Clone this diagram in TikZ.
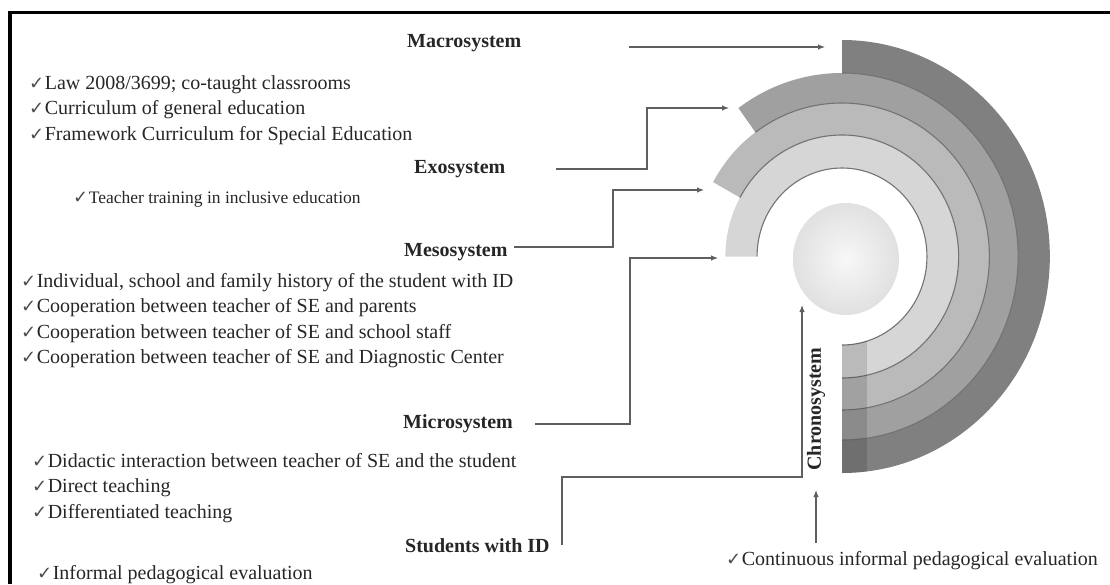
\documentclass[tikz,border=0pt]{standalone}
\usepackage{fontspec}
\setmainfont{Liberation Serif}
\newfontfamily\tickfont{DejaVu Sans}
\usetikzlibrary{arrows.meta,calc}
\definecolor{RingOne}{RGB}{214,214,214}
\definecolor{RingTwo}{RGB}{186,186,186}
\definecolor{RingThree}{RGB}{160,160,160}
\definecolor{RingFour}{RGB}{128,128,128}
\definecolor{LineGray}{RGB}{95,95,95}
\definecolor{TextGray}{RGB}{38,38,38}
\newcommand{\tickmark}{{\tickfont\fontsize{18}{18}\selectfont\color{black!70}✓}\kern0.5pt}

\begin{document}
\begin{tikzpicture}[
    x=1pt, y=-1pt,
    >={Latex[length=7pt,width=5.5pt]},
    head/.style={
        anchor=west,
        inner sep=0pt,
        text=TextGray,
        font=\fontsize{20}{24}\selectfont\bfseries
    },
    items/.style={
        anchor=north west,
        inner sep=0pt,
        align=left,
        text=TextGray,
        font=\fontsize{20}{25.5}\selectfont
    },
    arrow/.style={
        ->,
        line width=1.1pt,
        draw=LineGray
    },
    border/.style={
        draw=black!55,
        line width=1.1pt
    }
]
\useasboundingbox (0,0) rectangle (1110,584);

% frame
\draw[line width=3.5pt] (10,584) -- (10,12.5) -- (1110,12.5);

% rings
\begin{scope}[shift={(842,256.5)}, xscale=0.96]
    \foreach \a/\b/\s/\col in {183.5/216.5/90/RingFour, 153.5/183.5/126/RingThree,
                               121.5/153.5/151/RingTwo, 88.5/121.5/180/RingOne}
        \fill[\col] (-\s:\b) arc[start angle=-\s, end angle=90, radius=\b]
            -- (90:\a) arc[start angle=90, end angle=-\s, radius=\a] -- cycle;
    \foreach \a/\s in {183.5/90, 153.5/126, 121.5/151, 88.5/180}
        \draw[border] (-\s:\a) arc[start angle=-\s, end angle=90, radius=\a];
    \begin{scope}
        \clip (0,80) rectangle (26,230);
        \fill[black, opacity=0.13] (90:88.5) arc[start angle=90, end angle=60, radius=88.5]
            -- (60:216.5) arc[start angle=60, end angle=90, radius=216.5] -- cycle;
    \end{scope}
\end{scope}
\shade[inner color=gray!6, outer color=gray!24] (846,259) ellipse [x radius=53, y radius=56];

% labels
\node[head] (macro) at (407,43) {Macrosystem};
\node[items] (macroList) at (29,75) {\tickmark Law 2008/3699; co-taught classrooms\\
    \tickmark Curriculum of general education\\
    \tickmark Framework Curriculum for Special Education};

\node[head] (exo) at (414,169) {Exosystem};
\node[items, font=\fontsize{17.5}{21}\selectfont] (exoList) at (73,191) {\tickmark Teacher training in inclusive education};

\node[head] (meso) at (404,252) {Mesosystem};
\node[items] (mesoList) at (21,273) {\tickmark Individual, school and family history of the student with ID\\
    \tickmark Cooperation between teacher of SE and parents\\
    \tickmark Cooperation between teacher of SE and school staff\\
    \tickmark Cooperation between teacher of SE and Diagnostic Center};

\node[head] (micro) at (403,424) {Microsystem};
\node[items] (microList) at (32,453) {\tickmark Didactic interaction between teacher of SE and the student\\
    \tickmark Direct teaching\\
    \tickmark Differentiated teaching};

\node[head] (student) at (405,546) {Students with ID};
\node[items] (studentList) at (37,565) {\tickmark Informal pedagogical evaluation};

\node[head, rotate=90, anchor=center] (chrono) at (816,409) {Chronosystem};
\node[items] (chronoList) at (726,551) {\tickmark Continuous informal pedagogical evaluation};

% connectors
\coordinate (macroFrom) at (629,47);
\coordinate (macroTo) at (825,47);
\coordinate (exoFrom) at (556,169);
\coordinate (exoTo) at (729,108);
\coordinate (mesoFrom) at (514,247);
\coordinate (mesoTo) at (704,190);
\coordinate (microFrom) at (535,424);
\coordinate (microTo) at (718,258);
\coordinate (studentFrom) at (562,545);
\coordinate (studentTo) at (802,305);
\coordinate (chronoFrom) at (816,543);
\coordinate (chronoTo) at (816,490);

\draw[arrow] (macroFrom) -- (macroTo);
\draw[arrow] (exoFrom) -| ([xshift=-82pt]exoTo) -- (exoTo);
\draw[arrow] (mesoFrom) -| ([xshift=-91pt]mesoTo) -- (mesoTo);
\draw[arrow] (microFrom) -| ([xshift=-88pt]microTo) -- (microTo);
\draw[arrow] (studentFrom) |- ([yshift=-172pt]studentTo) -- (studentTo);
\draw[arrow] (chronoFrom) -- (chronoTo);

\end{tikzpicture}
\end{document}
